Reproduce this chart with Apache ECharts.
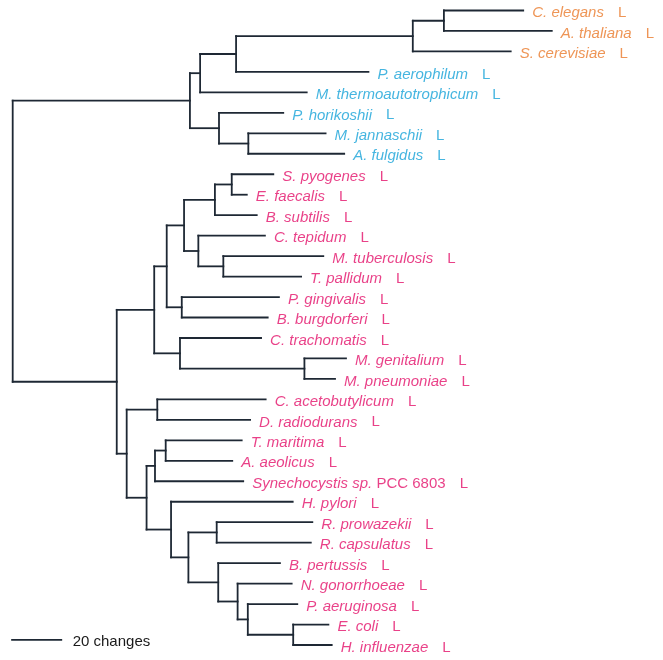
<!DOCTYPE html>
<html>
<head>
<meta charset="utf-8">
<script src="https://cdn.jsdelivr.net/npm/echarts@6/dist/echarts.min.js"></script>
<style>
html,body{margin:0;padding:0;background:#fff;}
#chart{width:663px;height:660px;}
</style>
</head>
<body>
<div id="chart"></div>
<script>
// ---- Data (branch lengths in "changes") ----
const taxa = [
  'C. elegans','A. thaliana','S. cerevisiae','P. aerophilum','M. thermoautotrophicum',
  'P. horikoshii','M. jannaschii','A. fulgidus','S. pyogenes','E. faecalis','B. subtilis',
  'C. tepidum','M. tuberculosis','T. pallidum','P. gingivalis','B. burgdorferi',
  'C. trachomatis','M. genitalium','M. pneumoniae','C. acetobutylicum','D. radiodurans',
  'T. maritima','A. aeolicus','Synechocystis sp. PCC 6803','H. pylori','R. prowazekii',
  'R. capsulatus','B. pertussis','N. gonorrhoeae','P. aeruginosa','E. coli','H. influenzae'
];
const taxonGroup = [
  'euk','euk','euk','arc','arc','arc','arc','arc',
  'bac','bac','bac','bac','bac','bac','bac','bac','bac','bac','bac','bac','bac',
  'bac','bac','bac','bac','bac','bac','bac','bac','bac','bac','bac'
];
const taxonParent = [
  'E','E','D','C','B','F','G','G','Y','Y','X','Z','AA','AA','AB','AB',
  'AC','AD','AD','J','J','M','M','L','N','P','P','Q','R','S','T','T'
];
const taxonLength = [
  31.1,42.3,38.4,51.9,41.8,25.2,30.3,37.6,16.3,5.9,16.4,26.1,39.2,30.5,38.1,33.7,
  31.8,16.3,12.0,42.5,36.4,29.8,26.1,34.6,47.7,37.5,36.9,24.2,21.2,19.4,13.8,15.1
];
const nodeIds    = ['A','B','C','D','E','F','G','H','U','V','W','X','Y','Z','AA','AB','AC','AD','I','J','K','L','M','N','O','P','Q','R','S','T'];
const nodeParent = ['root','A','B','C','D','A','F','root','H','U','V','W','X','W','Z','V','U','AC','H','I','I','K','L','K','N','O','O','Q','R','S'];
const nodeLength = [69.5,4.0,14.1,69.3,12.2,11.4,11.5,40.8,14.7,4.9,6.8,12.1,6.6,5.6,9.8,5.9,10.1,48.8,3.9,12.0,7.8,3.3,4.2,9.6,6.8,11.1,11.7,7.6,4.0,17.8];
const scaleBarLength = 20;
const scaleBarText = '20 changes';

const groupColor = { euk: '#EA7A2C', arc: '#16A3D8', bac: '#E4126A' };

// ---- Build tree geometry from the data ----
const nodes = { root: { id: 'root', parent: null, len: 0, children: [] } };
nodeIds.forEach((id, i) => { nodes[id] = { id, parent: nodeParent[i], len: nodeLength[i], children: [] }; });
taxa.forEach((t, i) => { nodes['leaf' + i] = { id: 'leaf' + i, parent: taxonParent[i], len: taxonLength[i], children: [], leaf: i }; });
Object.values(nodes).forEach(n => { if (n.parent) nodes[n.parent].children.push(n); });

function depthOf(n) { return n.parent ? depthOf(nodes[n.parent]) + n.len : 0; }
function layout(n) {
  n.depth = depthOf(n);
  if (n.leaf !== undefined) { n.y = n.leaf; n.minY = n.maxY = n.y; return; }
  n.children.forEach(layout);
  const ys = n.children.map(c => c.y);
  n.minY = Math.min(...ys); n.maxY = Math.max(...ys);
  n.y = (n.minY + n.maxY) / 2;
}
layout(nodes.root);

const segs = [];
Object.values(nodes).forEach(n => {
  if (n.parent) segs.push([nodes[n.parent].depth, n.y, n.depth, n.y]);
  if (n.children.length) segs.push([n.depth, n.minY, n.depth, n.maxY]);
});

const labelData = taxa.map((t, i) => {
  const n = nodes['leaf' + i];
  let txt;
  if (t.indexOf('PCC') >= 0) {
    const parts = t.split(' PCC');
    txt = '{n|' + parts[0] + '}{r| PCC' + parts[1] + '}{l|L}';
  } else {
    txt = '{n|' + t + '}{l|L}';
  }
  return { value: [n.depth, n.y], txt, label: { color: groupColor[taxonGroup[i]] } };
});

const FONT = '"Liberation Sans", Arial, Helvetica, sans-serif';
const chart = echarts.init(document.getElementById('chart'), null, { renderer: 'canvas' });
chart.setOption({
  animation: false,
  backgroundColor: '#ffffff',
  grid: { left: 12.7, width: 650.25, top: 10.5, bottom: 15 },
  xAxis: { type: 'value', min: 0, max: 255, show: false },
  yAxis: { type: 'value', min: 0, max: 31, inverse: true, show: false },
  series: [
    {
      type: 'custom',
      data: segs,
      renderItem: (params, api) => {
        const p1 = api.coord([api.value(0), api.value(1)]);
        const p2 = api.coord([api.value(2), api.value(3)]);
        return {
          type: 'line',
          shape: { x1: p1[0], y1: p1[1], x2: p2[0], y2: p2[1] },
          style: { stroke: '#1e2834', lineWidth: 1.8, lineCap: 'square' }
        };
      },
      silent: true
    },
    {
      type: 'scatter',
      symbolSize: 0,
      data: labelData,
      silent: true,
      label: {
        show: true,
        position: 'right',
        distance: 9,
        offset: [0, 2.5],
        formatter: p => p.data.txt,
        fontFamily: FONT,
        fontSize: 15,
        rich: {
          n: { fontStyle: 'italic', fontFamily: FONT, fontSize: 15 },
          r: { fontStyle: 'normal', fontFamily: FONT, fontSize: 15 },
          l: { fontStyle: 'normal', fontFamily: FONT, fontSize: 15, padding: [0, 0, 0, 14] }
        }
      }
    },
    {
      type: 'custom',
      data: [[scaleBarLength]],
      silent: true,
      renderItem: (params, api) => {
        const row = 30.75;
        const p1 = api.coord([-0.6, row]);
        const p2 = api.coord([-0.6 + api.value(0), row]);
        return {
          type: 'group',
          children: [
            { type: 'line', shape: { x1: p1[0], y1: p1[1], x2: p2[0], y2: p2[1] },
              style: { stroke: '#1e2834', lineWidth: 1.8 } },
            { type: 'text', x: p2[0] + 10.5, y: p1[1] + 2,
              style: { text: scaleBarText, fill: '#1a1a1a', font: '15px ' + FONT, textVerticalAlign: 'middle', textAlign: 'left' } }
          ]
        };
      }
    }
  ]
});
</script>
</body>
</html>
